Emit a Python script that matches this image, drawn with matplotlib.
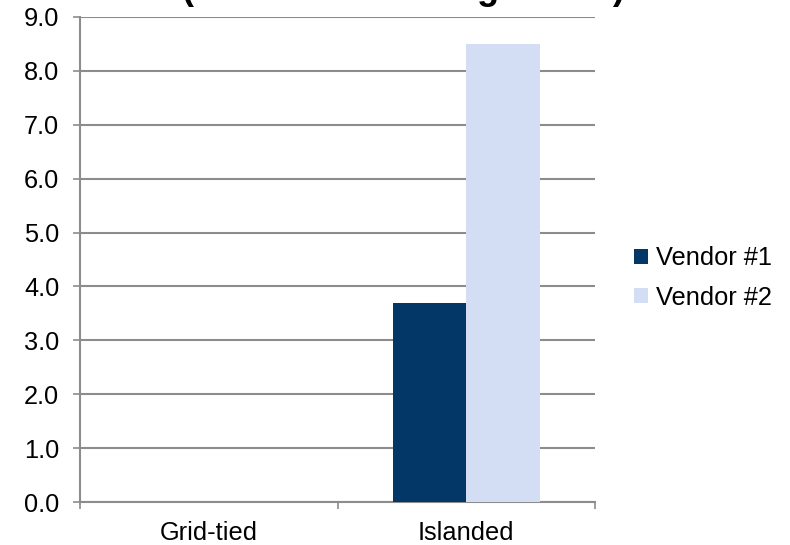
import matplotlib
matplotlib.use("Agg")
import matplotlib.pyplot as plt
import numpy as np

categories = ["Grid-tied", "Islanded"]
vendor1 = [0.0, 3.7]
vendor2 = [0.0, 8.5]
series_names = ["Vendor #1", "Vendor #2"]
yticks = [0.0, 1.0, 2.0, 3.0, 4.0, 5.0, 6.0, 7.0, 8.0, 9.0]

plt.rcParams["font.family"] = ["Liberation Sans", "DejaVu Sans"]
FS = 18.3

fig = plt.figure(figsize=(7.90, 5.45), dpi=100)
ax = fig.add_axes([80 / 790, 1 - 502 / 545, (595 - 80) / 790, (502 - 17) / 545])

x = np.arange(len(categories))
w = 0.286
ax.bar(x - w / 2, vendor1, w, color="#023767", label=series_names[0], zorder=3)
ax.bar(x + w / 2, vendor2, w, color="#d3ddf3", label=series_names[1], zorder=3)

ax.set_xlim(-0.5, 1.5)
ax.set_ylim(0, 9)
ax.set_yticks(yticks)
ax.set_yticklabels([f"{v:.1f}" for v in yticks], fontsize=FS)
ax.yaxis.grid(True, color="#8c8c8c", linewidth=1.5, zorder=0)
ax.set_axisbelow(True)

# category labels sit between tick marks placed at group boundaries
ax.set_xticks([-0.5, 0.5, 1.5])
ax.set_xticklabels([])
ax.set_xticks(x, minor=True)
ax.set_xticklabels(categories, minor=True, fontsize=FS)
ax.tick_params(axis="x", which="minor", length=0, pad=14)
ax.tick_params(axis="x", which="major", length=5, width=1.2, color="#8c8c8c")
ax.tick_params(axis="y", length=5, width=1.2, color="#8c8c8c", pad=10)

for s in ["top", "right"]:
    ax.spines[s].set_visible(False)
for s in ["left", "bottom"]:
    ax.spines[s].set_color("#8c8c8c")
    ax.spines[s].set_linewidth(1.5)

leg = fig.legend(loc="center left", bbox_to_anchor=(634 / 790, 1 - 278 / 545),
                 frameon=False, fontsize=FS, handlelength=0.55, handleheight=0.55,
                 handletextpad=0.3, labelspacing=0.6, borderaxespad=0,
                 borderpad=0)

fig.text(403 / 790, 1 + 1 / 545, "(Minutes of Storage Time)", ha="center",
         va="baseline", fontsize=26, fontweight="bold")

fig.savefig("out.png", dpi=100)
